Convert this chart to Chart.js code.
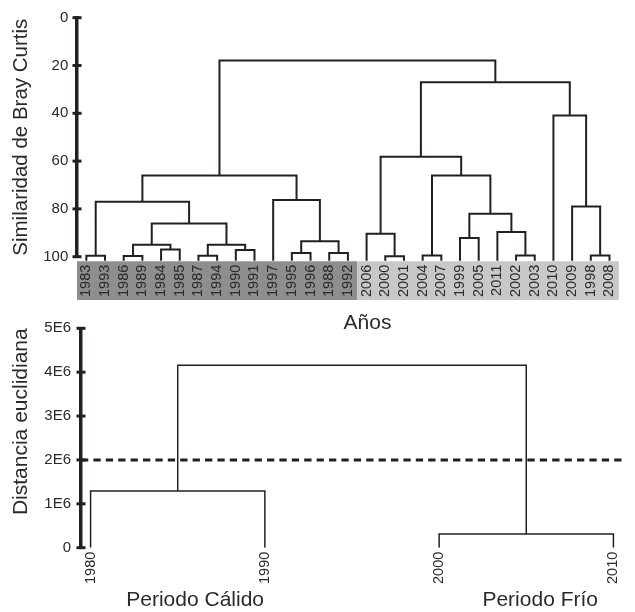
<!DOCTYPE html>
<html>
<head>
<meta charset="utf-8">
<script src="https://cdn.jsdelivr.net/npm/chart.js@4.4.1/dist/chart.umd.min.js"></script>
<style>
  html, body { margin: 0; padding: 0; background: #ffffff; }
  #wrap { position: relative; width: 635px; height: 612px; overflow: hidden; }
  #simChart { position: absolute; left: 0; top: 0; }
  #distChart { position: absolute; left: 0; top: 300px; }
</style>
</head>
<body>
<div id="wrap">
  <canvas id="simChart" width="635" height="340" style="width:635px;height:340px"></canvas>
  <canvas id="distChart" width="635" height="312" style="width:635px;height:312px"></canvas>
</div>
<script>
// ---------- Bray-Curtis similarity dendrogram ----------
// leaves in plotting order
const leafYears = ['1983','1993','1986','1989','1984','1985','1987','1994','1990','1991','1997',
  '1995','1996','1988','1992','2006','2000','2001','2004','2007','1999','2005','2011','2002',
  '2003','2010','2009','1998','2008'];
// merge k joins linkLeft[k] with linkRight[k]; the merged cluster is named 'c' + k
const linkLeft  = ['1983','1986','1984','c1','1987','1990','c4','c3','c0','1995','1988','c9','1997','c8',
  '2000','2006','2004','1999','2002','2011','c17','c16','c15','1998','2009','2010','c22','c13'];
const linkRight = ['1993','1989','1985','c2','1994','1991','c5','c6','c7','1996','1992','c10','c11','c12',
  '2001','c14','2007','2005','2003','c18','c19','c20','c21','2008','c23','c24','c25','c26'];
const linkSimilarity = [99.6, 99.7, 97.0, 95.0, 99.6, 97.2, 95.0, 86.1, 77.0, 98.5, 98.5, 93.5, 76.3, 66.0,
  99.8, 90.4, 99.5, 92.2, 99.5, 89.7, 82.0, 66.0, 58.2, 99.5, 79.0, 40.9, 27.0, 17.9];
const similarityTicks = [0, 20, 40, 60, 80, 100];
const firstColdLeaf = '2006';

// ---------- Euclidean distance dendrogram ----------
const periodYears = [1980, 1990, 2000, 2010];
const distLinkLeft  = ['1980', '2000', 'c0'];
const distLinkRight = ['1990', '2010', 'c1'];
const distLinkHeight = [1.29e6, 0.31e6, 4.16e6];
const distanceTicks = [0, 1e6, 2e6, 3e6, 4e6, 5e6];
const distanceTickLabels = ['0', '1E6', '2E6', '3E6', '4E6', '5E6'];
const cutDistance = [2e6];
const periodNames = ['Periodo Cálido', 'Periodo Frío'];

// ---------- shared look ----------
const INK = '#231f20';
const TEXT = '#2a2a2a';
const FAMILY = '"Liberation Sans", Arial, Helvetica, sans-serif';
Chart.defaults.font.family = FAMILY;

// Turn a merge list into U-shaped link polylines (x = leaf position, y = merge height)
function buildLinks(names, xs, left, right, heights, base) {
  const node = {};
  names.forEach((n, i) => { node[n] = { x: xs[i], h: base }; });
  const links = [];
  left.forEach((a, k) => {
    const L = node[a], R = node[right[k]], h = heights[k];
    links.push([{ x: L.x, y: L.h }, { x: L.x, y: h }, { x: R.x, y: h }, { x: R.x, y: R.h }]);
    node['c' + k] = { x: (L.x + R.x) / 2, h: h };
  });
  return links;
}

// Short tick bars that straddle the y axis line
const crossTicks = {
  id: 'crossTicks',
  afterDraw(chart) {
    const s = chart.scales.y, ctx = chart.ctx;
    const x = chart.chartArea.left;
    ctx.save();
    ctx.strokeStyle = INK;
    ctx.lineWidth = 3;
    s.ticks.forEach(t => {
      const y = s.getPixelForValue(t.value);
      ctx.beginPath();
      ctx.moveTo(x - 4.5, y);
      ctx.lineTo(x + 4.5, y);
      ctx.stroke();
    });
    ctx.restore();
  }
};

// ---------- top chart ----------
const STUB_END = 101.7;  // leaf stubs reach down into the label strip
const simLinks = buildLinks(leafYears, leafYears.map((_, i) => i), linkLeft, linkRight, linkSimilarity, STUB_END);

const leafStrip = {
  id: 'leafStrip',
  beforeDraw(chart) {
    const xs = chart.scales.x, ys = chart.scales.y, ctx = chart.ctx;
    const top = ys.getPixelForValue(STUB_END) + 0.5;
    const bottom = 300;
    const split = xs.getPixelForValue(leafYears.indexOf(firstColdLeaf) - 0.5);
    ctx.save();
    ctx.fillStyle = '#8e8e8e';
    ctx.fillRect(xs.left, top, split - xs.left, bottom - top);
    ctx.fillStyle = '#c8c8c8';
    ctx.fillRect(split, top, xs.right - split, bottom - top);
    ctx.restore();
  },
  afterDraw(chart) {
    const ctx = chart.ctx;
    ctx.save();
    ctx.fillStyle = TEXT;
    ctx.font = '21px ' + FAMILY;
    ctx.textAlign = 'center';
    ctx.textBaseline = 'alphabetic';
    ctx.fillText('Años', 367.5, 328.5);
    ctx.restore();
  }
};

new Chart(document.getElementById('simChart'), {
  type: 'scatter',
  data: {
    datasets: simLinks.map(pts => ({
      data: pts, showLine: true, borderColor: INK, borderWidth: 2, pointRadius: 0,
      borderJoinStyle: 'miter', borderCapStyle: 'butt', clip: false, fill: false
    }))
  },
  options: {
    responsive: false, animation: false, events: [],
    layout: { padding: { top: 17.3, right: 6.7, left: 0, bottom: 0 } },
    plugins: { legend: { display: false }, tooltip: { enabled: false } },
    scales: {
      x: {
        type: 'linear', min: -0.5, max: leafYears.length - 0.5,
        afterBuildTicks: s => { s.ticks = leafYears.map((_, i) => ({ value: i })); },
        afterFit: s => { s.height = 83.3; },
        ticks: {
          autoSkip: false, minRotation: 90, maxRotation: 90, padding: 8,
          color: TEXT, font: { size: 14.5 },
          callback: v => leafYears[v]
        },
        grid: { display: false, drawTicks: false },
        border: { display: false }
      },
      y: {
        type: 'linear', reverse: true, min: 0, max: 100,
        afterBuildTicks: s => { s.ticks = similarityTicks.map(v => ({ value: v })); },
        afterFit: s => { s.width = 77; },
        ticks: { padding: 8.7, color: TEXT, font: { size: 15 } },
        grid: { display: false, drawTicks: false },
        border: { display: true, width: 3.5, color: INK },
        title: {
          display: true, text: 'Similaridad de Bray Curtis', align: 'center',
          color: TEXT, font: { size: 20.5 }, padding: { top: 8.7, bottom: 0 }
        }
      }
    }
  },
  plugins: [leafStrip, crossTicks]
});

// ---------- bottom chart ----------
const X_MIN = 1979.45, X_MAX = 2010.6;
const distLinks = buildLinks(periodYears.map(String), periodYears, distLinkLeft, distLinkRight, distLinkHeight, 0);

const periodCaptions = {
  id: 'periodCaptions',
  afterDraw(chart) {
    const xs = chart.scales.x, ctx = chart.ctx;
    const anchors = [1986, 2005.8];
    ctx.save();
    ctx.fillStyle = TEXT;
    ctx.font = '21px ' + FAMILY;
    ctx.textAlign = 'center';
    ctx.textBaseline = 'alphabetic';
    periodNames.forEach((name, i) => ctx.fillText(name, xs.getPixelForValue(anchors[i]), 305.5));
    ctx.restore();
  }
};

const distDatasets = distLinks.map(pts => ({
  data: pts, showLine: true, borderColor: INK, borderWidth: 1.5, pointRadius: 0,
  borderJoinStyle: 'miter', borderCapStyle: 'butt', fill: false
}));
cutDistance.forEach(c => distDatasets.push({
  data: [{ x: X_MIN, y: c }, { x: X_MAX, y: c }], showLine: true, borderColor: INK,
  borderWidth: 3, borderDash: [7.3, 5.1], pointRadius: 0, borderCapStyle: 'butt', fill: false
}));

new Chart(document.getElementById('distChart'), {
  type: 'scatter',
  data: { datasets: distDatasets },
  options: {
    responsive: false, animation: false, events: [],
    layout: { padding: { top: 28.3, right: 10, left: 0, bottom: 0 } },
    plugins: { legend: { display: false }, tooltip: { enabled: false } },
    scales: {
      x: {
        type: 'linear', min: X_MIN, max: X_MAX,
        afterBuildTicks: s => { s.ticks = periodYears.map(v => ({ value: v })); },
        afterFit: s => { s.height = 64.3; },
        ticks: {
          autoSkip: false, minRotation: 90, maxRotation: 90, padding: 4,
          color: TEXT, font: { size: 14.5 },
          callback: v => String(v)
        },
        grid: { display: false, drawTicks: false },
        border: { display: false }
      },
      y: {
        type: 'linear', min: 0, max: 5e6,
        afterBuildTicks: s => { s.ticks = distanceTicks.map(v => ({ value: v })); },
        afterFit: s => { s.width = 81; },
        ticks: {
          padding: 10, color: TEXT, font: { size: 15 },
          callback: v => distanceTickLabels[distanceTicks.indexOf(v)]
        },
        grid: { display: false, drawTicks: false },
        border: { display: true, width: 3.5, color: INK },
        title: {
          display: true, text: 'Distancia euclidiana', align: 'end',
          color: TEXT, font: { size: 21 }, padding: { top: 8.4, bottom: 0 }
        }
      }
    }
  },
  plugins: [periodCaptions, crossTicks]
});
</script>
</body>
</html>
